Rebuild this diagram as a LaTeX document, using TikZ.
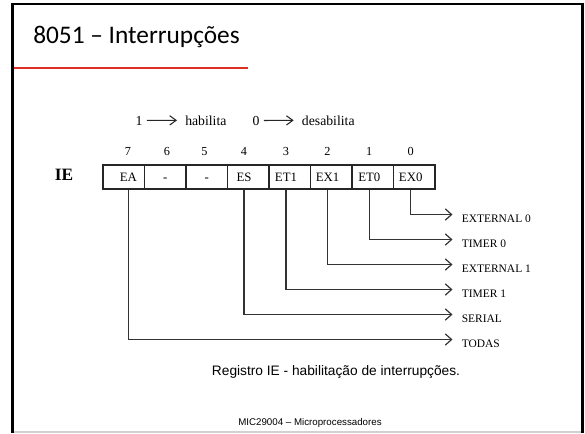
\documentclass[tikz,border=0pt]{standalone}
\usepackage{fontspec}
\setmainfont{Liberation Serif}
\newfontfamily\titlefont{Carlito}
\newfontfamily\capfont{Liberation Sans}
\usetikzlibrary{arrows.meta}
\definecolor{rulered}{RGB}{221,47,36}

\begin{document}
\begin{tikzpicture}[x=0.75pt,y=-0.75pt,
  cell/.style={draw=black!85, line width=0.85pt, minimum width=31.125pt,
    minimum height=18pt, inner sep=0pt},
  bitlbl/.style={font=\fontsize{9.6}{11}\selectfont, inner sep=0pt, anchor=base},
  bitnum/.style={font=\fontsize{9.2}{11}\selectfont, inner sep=0pt, anchor=base},
  outlbl/.style={font=\fontsize{8.6}{10}\selectfont, anchor=west, inner sep=0pt},
  legtxt/.style={font=\fontsize{10.3}{12}\selectfont, inner sep=0pt},
  legarrow/.style={draw=black!85, line width=0.8pt,
    -{Straight Barb[length=4.8pt,width=7pt,line width=0.8pt]}},
  sig/.style={draw=black!80, line width=0.9pt,
    -{Straight Barb[length=4.8pt,width=8.5pt,line width=0.9pt]}},
]
\useasboundingbox (0,0) rectangle (585,433);
\fill[white] (0,0) rectangle (585,433);

% slide frame
\draw[black, line width=1.9pt] (12.5,433) -- (12.5,4) -- (582.5,4) -- (582.5,433);
\draw[black!18, line width=1pt] (14,432) -- (581,432);

% title and red rule
\node[anchor=base west, inner sep=0pt, font=\titlefont\fontsize{19}{23}\selectfont]
  (title) at (33,43.5) {8051 – Interrupções};
\draw[rulered, line width=0.8pt] (13.5,68) -- (248,68);

% legend
\node[legtxt, anchor=base] (one) at (139,125) {1};
\node[legtxt, anchor=base west] (hab) at (185,125) {habilita};
\node[legtxt, anchor=base] (zero) at (256,125) {0};
\node[legtxt, anchor=base west] (dis) at (301.7,125) {desabilita};
\draw[legarrow, shorten <=3.2pt, shorten >=6pt] (one.east) -- (hab.west);
\draw[legarrow, shorten <=3.2pt, shorten >=6pt] (zero.east) -- (dis.west);

% register cells, bit 7 on the left
\foreach \b [count=\k from 0] in {7,6,5,4,3,2,1,0}
  \node[cell] (c\b) at (123.75+41.5*\k,177) {};

% bit numbers
\node[bitnum] (n7) at (128,155) {7};
\node[bitnum] (n6) at (167,155) {6};
\node[bitnum] (n5) at (204.5,155) {5};
\node[bitnum] (n4) at (244,155) {4};
\node[bitnum] (n3) at (286,155) {3};
\node[bitnum] (n2) at (327.5,155) {2};
\node[bitnum] (n1) at (369.3,155) {1};
\node[bitnum] (n0) at (410.7,155) {0};

% bit names
\node[bitlbl] (ea)  at (128.3,181.3) {EA};
\node[bitlbl] (d6)  at (165.3,181.3) {-};
\node[bitlbl] (d5)  at (206.7,181.3) {-};
\node[bitlbl] (es)  at (244,181.3) {ES};
\node[bitlbl] (et1) at (286,181.3) {ET1};
\node[bitlbl] (ex1) at (327.5,181.3) {EX1};
\node[bitlbl] (et0) at (369.3,181.3) {ET0};
\node[bitlbl] (ex0) at (410.7,181.3) {EX0};

\node[font=\fontsize{13}{15}\selectfont\bfseries, inner sep=0pt] (ie) at (64,175) {IE};

% interrupt sources
\node[outlbl] (oex0) at (461.5,218.5) {EXTERNAL 0};
\node[outlbl] (oet0) at (461.5,243.5) {TIMER 0};
\node[outlbl] (oex1) at (461.5,268.5) {EXTERNAL 1};
\node[outlbl] (oet1) at (461.5,293.5) {TIMER 1};
\node[outlbl] (oes)  at (461.5,318.5) {SERIAL};
\node[outlbl] (oea)  at (461.5,343.5) {TODAS};

\draw[sig] (ex0 |- c0.south) |- ([xshift=-6.75pt,yshift=3pt]oex0.west);
\draw[sig] (et0 |- c1.south) |- ([xshift=-6.75pt,yshift=3pt]oet0.west);
\draw[sig] (ex1 |- c2.south) |- ([xshift=-6.75pt,yshift=3pt]oex1.west);
\draw[sig] (et1 |- c3.south) |- ([xshift=-6.75pt,yshift=3pt]oet1.west);
\draw[sig] (es  |- c4.south) |- ([xshift=-6.75pt,yshift=3pt]oes.west);
\draw[sig] (ea  |- c7.south) |- ([xshift=-6.75pt,yshift=3pt]oea.west);

% caption and footer
\node[anchor=base, inner sep=0pt, font=\capfont\fontsize{10.3}{12}\selectfont]
  (cap) at (336,375.7) {Registro IE - habilitação de interrupções.};
\node[anchor=base, inner sep=0pt, font=\capfont\fontsize{7.3}{9}\selectfont]
  (foot) at (310,425.7) {MIC29004 – Microprocessadores};
\end{tikzpicture}
\end{document}
